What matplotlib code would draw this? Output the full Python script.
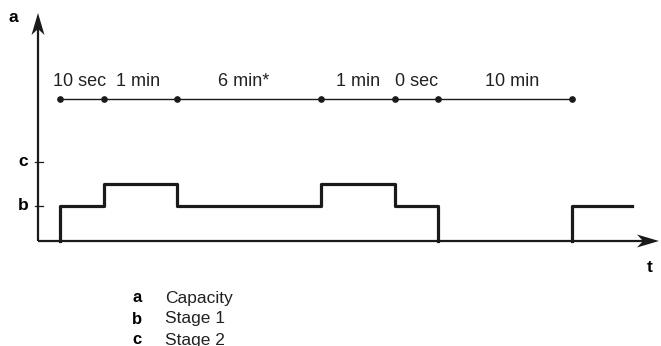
import matplotlib.pyplot as plt
from matplotlib.patches import Polygon

plt.rcParams['font.family'] = ['Liberation Sans', 'DejaVu Sans']

# schematic time positions of the switching events (not to scale)
switch_times = [22, 66, 139, 283, 357, 400, 534]
end_time = 594
# capacity level after each switch
levels = [35, 57, 35, 57, 35, 0, 35]
phase_labels = ['10 sec', '1 min', '6 min*', '1 min', '0 sec', '10 min']
label_pos = [42, 100, 206, 320, 379, 474]

tick_levels = [35, 79]
tick_names = ['b', 'c']

legend_keys = ['a', 'b', 'c']
legend_text = ['Capacity', 'Stage 1', 'Stage 2']

fig = plt.figure(figsize=(6.61, 3.46), dpi=100)
ax = fig.add_axes([0, 0, 1, 1])
ax.set_xlim(-38, 623)
ax.set_ylim(-105, 241)
ax.axis('off')

ink = '#1a1a1a'


def stealth(ax, tip, direction, length=22, width=13, notch=6):
    tx, ty = tip
    dx, dy = direction
    px, py = -dy, dx
    bx, by = tx - dx * length, ty - dy * length
    nx, ny = tx - dx * (length - notch), ty - dy * (length - notch)
    pts = [(tx, ty), (bx + px * width / 2, by + py * width / 2), (nx, ny),
           (bx - px * width / 2, by - py * width / 2)]
    ax.add_patch(Polygon(pts, closed=True, color=ink, lw=0, zorder=5))


# axes with arrows
ax.plot([0, 0], [0, 215], color=ink, lw=1.6, solid_capstyle='butt')
ax.plot([0, 606], [0, 0], color=ink, lw=1.6, solid_capstyle='butt')
stealth(ax, (0, 228), (0, 1))
stealth(ax, (621, 0), (1, 0))
ax.text(-25, 223, 'a', fontsize=12.5, fontweight='bold', ha='center', va='center')
ax.text(612, -26, 't', fontsize=12.5, fontweight='bold', ha='center', va='center')

# y ticks
for lv, nm in zip(tick_levels, tick_names):
    ax.plot([-3, 5], [lv, lv], color=ink, lw=0.9)
    ax.text(-15, lv, nm, fontsize=12.5, fontweight='bold', ha='center', va='center')

# capacity step line, split where the level drops to zero (lies on the axis)
xs_all = [switch_times[0]] + switch_times + [end_time]
ys_all = [0] + levels + [levels[-1]]
seg_x, seg_y = [], []
for i in range(len(xs_all)):
    seg_x.append(xs_all[i])
    seg_y.append(ys_all[i])
    if ys_all[i] == 0 and i > 0:
        ax.step(seg_x, seg_y, where='post', color=ink, lw=2.3)
        seg_x, seg_y = [xs_all[i + 1]], [0]
ax.step(seg_x, seg_y, where='post', color=ink, lw=2.3)

# timeline
ax.plot(switch_times, [142] * len(switch_times), color=ink, lw=1.0,
        marker='o', markersize=3.8)
for pos, lab in zip(label_pos, phase_labels):
    ax.text(pos, 159, lab, fontsize=13, ha='center', va='center', color='#222222')

# legend
for i, (k, t) in enumerate(zip(legend_keys, legend_text)):
    y = -57 - i * 21
    ax.text(99, y, k, fontsize=12, fontweight='bold', ha='center', va='center')
    ax.text(127, y, t, fontsize=12.5, ha='left', va='center', color='#222222')

fig.savefig('out.png', dpi=100)
